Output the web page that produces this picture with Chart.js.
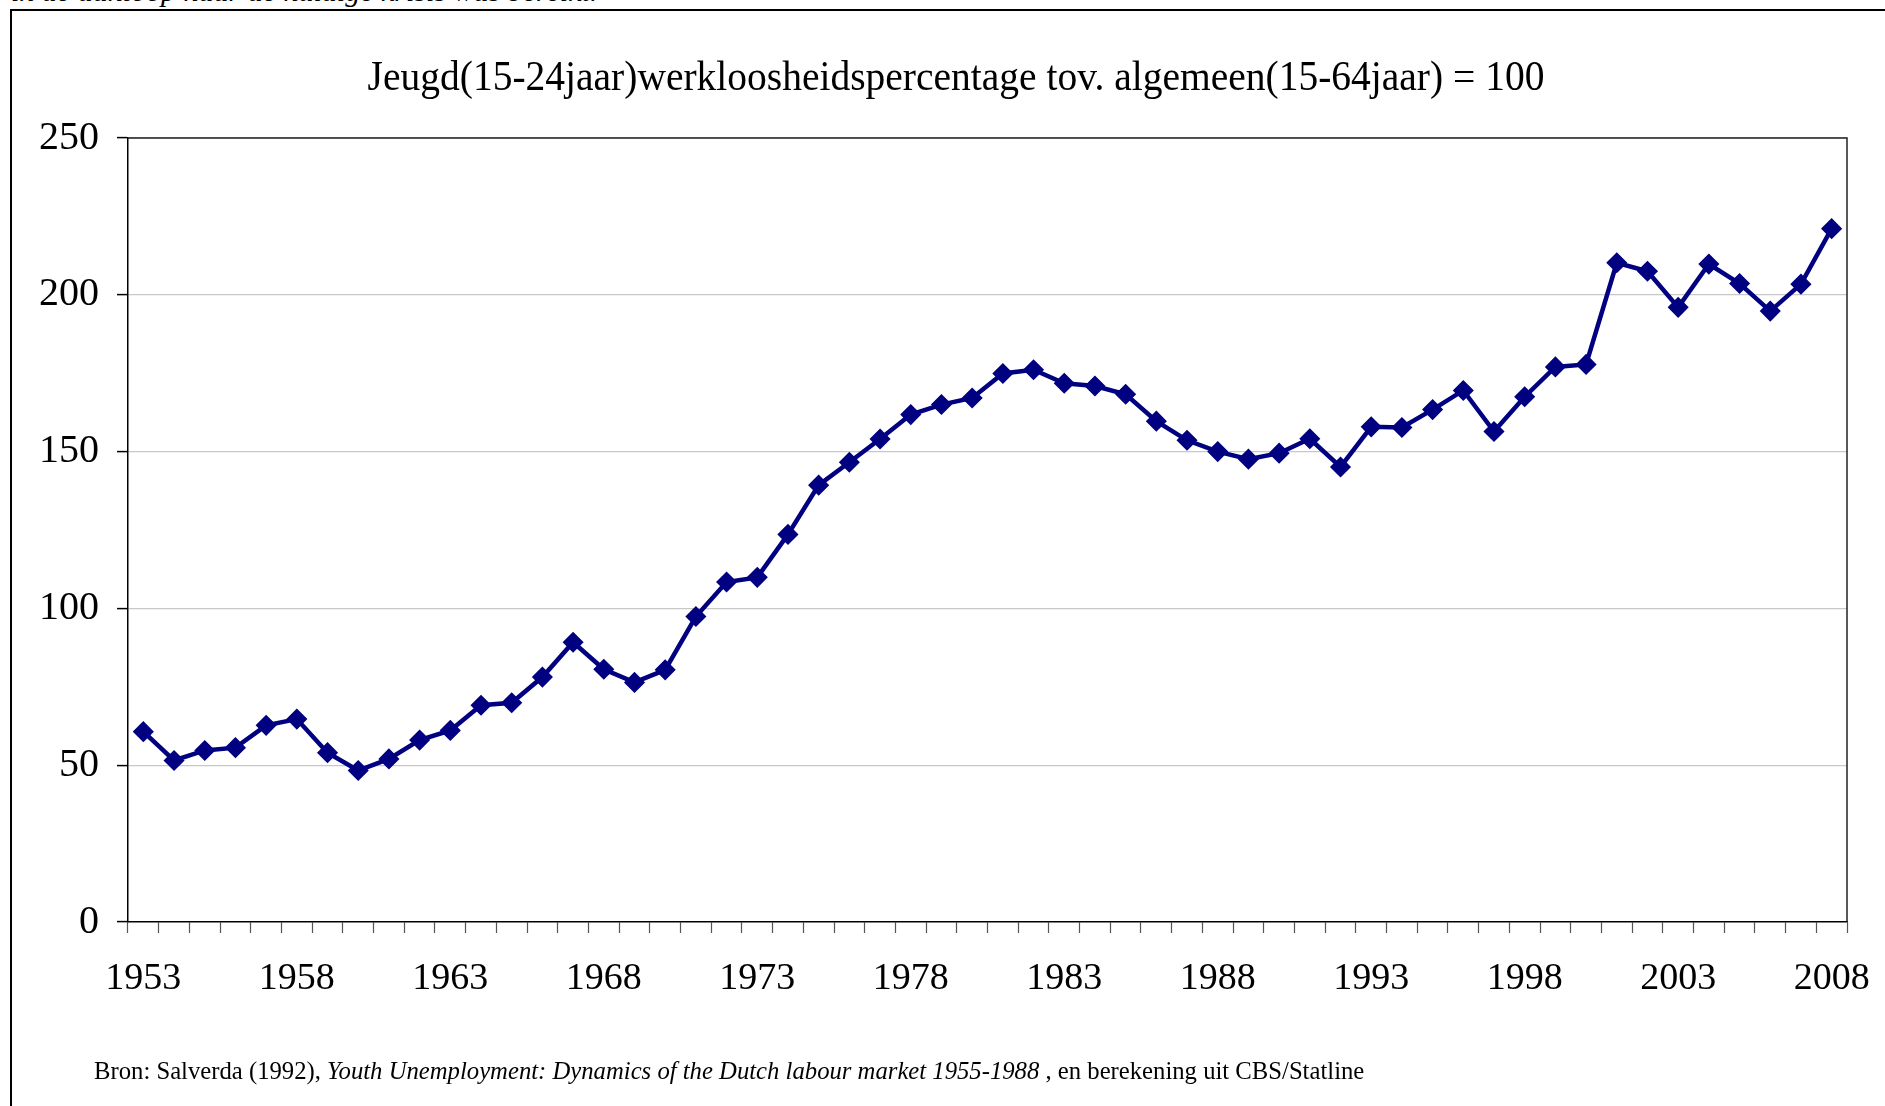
<!DOCTYPE html>
<html>
<head>
<meta charset="utf-8">
<title>Jeugdwerkloosheid</title>
<script src="https://cdn.jsdelivr.net/npm/chart.js@4.4.1/dist/chart.umd.min.js"></script>
<style>
    html, body { margin: 0; padding: 0; background: #fff; }
    body { width: 1885px; height: 1106px; position: relative; overflow: hidden; font-family: 'Liberation Serif', 'Times New Roman', serif; color: #000; }
    #frame { position: absolute; left: 10px; top: 9px; width: 1900px; height: 1200px; border: 2px solid #000; }
    #lead { position: absolute; left: 11px; top: -25px; font-style: italic; font-size: 30px; line-height: 32px; white-space: nowrap; }
    #wrap { position: absolute; left: 0; top: 0; width: 1885px; height: 1106px; }
    #chart-title { position: absolute; left: 956px; top: 52px; line-height: 48px; font-size: 39.5px; white-space: nowrap; transform: translateX(-50%) scaleY(1.08); }
    #source { position: absolute; left: 94px; top: 1057px; font-size: 24.7px; white-space: nowrap; }
</style>
</head>
<body>
<div id="lead">in de aanloop naar de huidige krisis was bereikt.</div>
<div id="frame"></div>
<div id="wrap"><canvas id="youth-chart"></canvas></div>
<div id="chart-title">Jeugd(15-24jaar)werkloosheidspercentage tov. algemeen(15-64jaar) = 100</div>
<div id="source">Bron: Salverda (1992), <i>Youth Unemployment: Dynamics of the Dutch labour market 1955-1988</i> , en berekening uit CBS/Statline</div>

<script>
// jaren op de x-as
const years = [
    '1953', '1954', '1955', '1956', '1957', '1958', '1959', '1960', '1961', '1962',
    '1963', '1964', '1965', '1966', '1967', '1968', '1969', '1970', '1971', '1972',
    '1973', '1974', '1975', '1976', '1977', '1978', '1979', '1980', '1981', '1982',
    '1983', '1984', '1985', '1986', '1987', '1988', '1989', '1990', '1991', '1992',
    '1993', '1994', '1995', '1996', '1997', '1998', '1999', '2000', '2001', '2002',
    '2003', '2004', '2005', '2006', '2007', '2008'
];

// jeugdwerkloosheid t.o.v. algemeen (= 100)
const youthRatio = [
    60.7, 51.5, 54.7, 55.6, 62.7, 64.7, 54.0, 48.3, 52.0, 58.0,
    61.1, 69.1, 69.9, 78.1, 89.2, 80.6, 76.4, 80.4, 97.4, 108.4,
    109.9, 123.6, 139.3, 146.6, 154.0, 161.8, 165.0, 167.1, 174.9, 176.1,
    171.8, 170.9, 168.3, 159.7, 153.6, 150.0, 147.6, 149.5, 154.1, 145.1,
    157.9, 157.7, 163.4, 169.5, 156.4, 167.5, 177.0, 177.8, 210.2, 207.5,
    196.0, 209.8, 203.6, 194.8, 203.4, 221.1
];

// welke jaren een label krijgen, en de y-ticks
const shownYears = ['1953', '1958', '1963', '1968', '1973', '1978', '1983', '1988', '1993', '1998', '2003', '2008'];
const yMin = 0;
const yMax = 250;
const yStep = 50;

// rechter- en bovenrand van het plotgebied
const plotFrame = {
    id: 'plotFrame',
    beforeDatasetsDraw(chart) {
        const a = chart.chartArea;
        const ctx = chart.ctx;
        ctx.save();
        ctx.strokeStyle = '#222';
        ctx.lineWidth = 1.5;
        ctx.beginPath();
        ctx.moveTo(a.left, a.top);
        ctx.lineTo(a.right, a.top);
        ctx.lineTo(a.right, a.bottom);
        ctx.stroke();
        ctx.restore();
    }
};

const serif = "'Liberation Serif', 'Times New Roman', serif";

const ctx = document.getElementById('youth-chart').getContext('2d');
const youthChart = new Chart(ctx, {
    type: 'line',
    data: {
        labels: years,
        datasets: [{
            label: 'Jeugd t.o.v. algemeen',
            data: youthRatio,
            borderColor: '#000080',
            backgroundColor: '#000080',
            borderWidth: 4.5,
            tension: 0,
            pointStyle: 'rectRot',
            pointRadius: 9.5,
            pointBorderWidth: 1.5,
            pointBackgroundColor: '#000080',
            pointBorderColor: '#000080'
        }]
    },
    options: {
        responsive: true,
        maintainAspectRatio: false,
        animation: false,
        layout: {
            padding: { left: 0, right: 38, top: 138, bottom: 94 }
        },
        plugins: {
            legend: { display: false },
            tooltip: { enabled: false },
            title: { display: false }
        },
        scales: {
            x: {
                offset: true,
                grid: {
                    display: true,
                    offset: true,
                    drawOnChartArea: false,
                    drawTicks: true,
                    tickLength: 11,
                    tickColor: '#555',
                    tickWidth: 1.2
                },
                border: { display: true, color: '#000', width: 1.5 },
                ticks: {
                    autoSkip: false,
                    maxRotation: 0,
                    minRotation: 0,
                    padding: 23,
                    color: '#000',
                    font: { family: serif, size: 38 },
                    callback: function(value) {
                        const lab = this.getLabelForValue(value);
                        return shownYears.includes(lab) ? lab : '';
                    }
                },
                afterFit: function(scale) {
                    scale.height = 90;
                    // labels mogen buiten het plotgebied uitsteken
                    scale.paddingLeft = 0;
                    scale.paddingRight = 0;
                }
            },
            y: {
                min: yMin,
                max: yMax,
                grid: {
                    color: function(context) {
                        return context.tick.value === yMin ? 'rgba(0,0,0,0)' : '#c8c8c8';
                    },
                    lineWidth: 1.2,
                    drawTicks: true,
                    tickLength: 11,
                    tickColor: '#000',
                    tickWidth: 1.5
                },
                border: { display: true, color: '#000', width: 1.5 },
                ticks: {
                    stepSize: yStep,
                    padding: 18,
                    color: '#000',
                    font: { family: serif, size: 40 }
                },
                afterFit: function(scale) {
                    scale.width = 128;
                }
            }
        }
    },
    plugins: [plotFrame]
});
</script>
</body>
</html>
